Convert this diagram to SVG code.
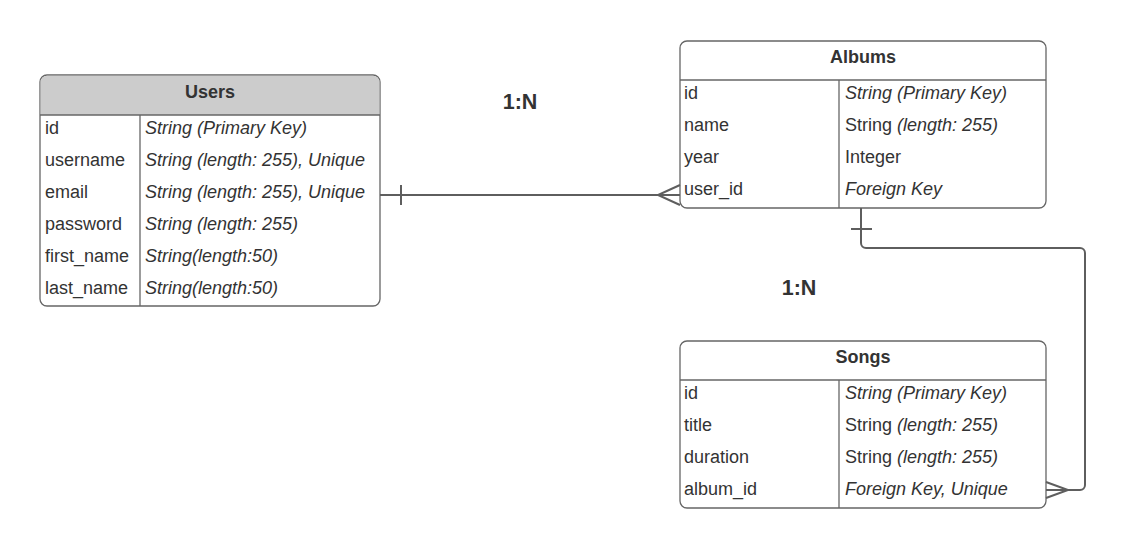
<svg xmlns="http://www.w3.org/2000/svg" width="1127" height="548" viewBox="0 0 1127 548">
<style>
text{font-family:"Liberation Sans",Arial,sans-serif;fill:#333;font-size:18px}
.h{font-weight:bold;text-anchor:middle}
.i{font-style:italic}
.box{fill:#fff;stroke:#666;stroke-width:1.3}
.ln{stroke:#666;stroke-width:1.3;fill:none}
.c{stroke:#5e5e5e;stroke-width:2;fill:none}
.lbl{font-weight:bold;font-size:21.5px;text-anchor:middle}
</style>
<rect width="1127" height="548" fill="#fff"/>
<g id="users">
<rect class="box" x="40" y="75" width="340" height="231" rx="7"/>
<path d="M40.65 115 V82 a6.35 6.35 0 0 1 6.35 -6.35 H373 a6.35 6.35 0 0 1 6.35 6.35 V115 Z" fill="#ccc"/>
<line class="ln" x1="40" y1="115" x2="380" y2="115"/>
<line class="ln" x1="140" y1="115" x2="140" y2="306"/>
<text class="h" x="210" y="98">Users</text>
<text x="45" y="134">id</text><text class="i" x="145" y="134">String (Primary Key)</text>
<text x="45" y="166">username</text><text class="i" x="145" y="166">String (length: 255), Unique</text>
<text x="45" y="198">email</text><text class="i" x="145" y="198">String (length: 255), Unique</text>
<text x="45" y="230">password</text><text class="i" x="145" y="230">String (length: 255)</text>
<text x="45" y="262">first_name</text><text class="i" x="145" y="262">String(length:50)</text>
<text x="45" y="294">last_name</text><text class="i" x="145" y="294">String(length:50)</text>
</g>
<g id="albums">
<rect class="box" x="680" y="41" width="366" height="167" rx="7"/>
<line class="ln" x1="680" y1="80" x2="1046" y2="80"/>
<line class="ln" x1="839" y1="80" x2="839" y2="208"/>
<text class="h" x="863" y="63">Albums</text>
<text x="684" y="99">id</text><text class="i" x="845" y="99">String (Primary Key)</text>
<text x="684" y="131">name</text><text x="845" y="131">String <tspan class="i">(length: 255)</tspan></text>
<text x="684" y="163">year</text><text x="845" y="163">Integer</text>
<text x="684" y="195">user_id</text><text class="i" x="845" y="195">Foreign Key</text>
</g>
<g id="songs">
<rect class="box" x="680" y="341" width="366" height="167" rx="7"/>
<line class="ln" x1="680" y1="380" x2="1046" y2="380"/>
<line class="ln" x1="839" y1="380" x2="839" y2="508"/>
<text class="h" x="863" y="363">Songs</text>
<text x="684" y="399">id</text><text class="i" x="845" y="399">String (Primary Key)</text>
<text x="684" y="431">title</text><text x="845" y="431">String <tspan class="i">(length: 255)</tspan></text>
<text x="684" y="463">duration</text><text x="845" y="463">String <tspan class="i">(length: 255)</tspan></text>
<text x="684" y="495">album_id</text><text class="i" x="845" y="495">Foreign Key, Unique</text>
</g>
<g id="connectors">
<path class="c" d="M380 195 H680"/>
<path class="c" d="M401 185 V205"/>
<path class="c" d="M680 185 L658 195 L680 205"/>
<path class="c" d="M861 208 V243 a5 5 0 0 0 5 5 H1080 a5 5 0 0 1 5 5 V485 a5 5 0 0 1 -5 5 H1046"/>
<path class="c" d="M851 229 H872"/>
<path class="c" d="M1046 482 L1068 490 L1046 498"/>
<text class="lbl" x="520" y="109">1:N</text>
<text class="lbl" x="799" y="295">1:N</text>
</g>
</svg>
